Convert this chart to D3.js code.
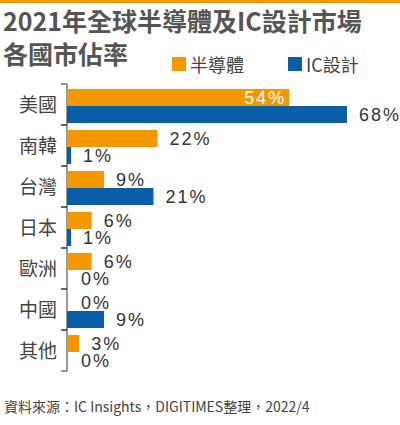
<!DOCTYPE html>
<html><head><meta charset="utf-8">
<script src="https://cdn.jsdelivr.net/npm/d3@7"></script>
<style>body{margin:0;background:#fff}svg{display:block;font-family:"Noto Sans CJK TC",sans-serif}</style>
</head><body><svg width="400" height="425"></svg>
<script>
const categories = ['美國','南韓','台灣','日本','歐洲','中國','其他'];
const semiValues = [54,22,9,6,6,0,3];
const icValues = [68,1,21,1,0,9,0];
const seriesNames = ['半導體','IC設計'];
const colors = ['#f39800','#0a5ea8'];

const svg = d3.select('svg');
svg.append('rect').attr('x',0).attr('y',0).attr('width',400).attr('height',3).attr('fill','#f39800');
const title = svg.append('text').attr('fill','#555').attr('font-weight','bold').attr('font-size',25);
title.append('tspan').attr('x',3).attr('y',31).text('2021年全球半導體及IC設計市場');
title.append('tspan').attr('x',3).attr('y',64).text('各國市佔率');

seriesNames.forEach((n,i)=>{
  const lx = [172,288][i];
  svg.append('rect').attr('x',lx).attr('y',57).attr('width',14).attr('height',14).attr('fill',colors[i]);
  svg.append('text').attr('x',lx+18).attr('y',72).attr('font-size',18).attr('fill','#444').text(n);
});

const x = d3.scaleLinear().domain([0,68]).range([67,347]);
const y = d3.scaleBand().domain(categories).range([84,371]);
const g = svg.append('g');
g.append('line').attr('x1',67).attr('x2',67).attr('y1',y.range()[0]).attr('y2',y.range()[1]).attr('stroke','#333');
categories.forEach((c,i)=>{
  const y0 = y(c);
  [y0, y0+y.bandwidth()].forEach(t=>g.append('line').attr('x1',61).attr('x2',67).attr('y1',t).attr('y2',t).attr('stroke','#333'));
  g.append('text').attr('x',57).attr('y',y0+y.bandwidth()/2+7).attr('text-anchor','end')
    .attr('font-size',19).attr('fill','#444').text(c);
  [semiValues[i], icValues[i]].forEach((v,k)=>{
    const by = y0+5+k*17;
    g.append('rect').attr('x',x(0)).attr('y',by).attr('width',x(v)-x(0)).attr('height',17).attr('fill',colors[k]);
    const inside = i===0 && k===0;
    g.append('text').attr('x', inside ? x(v)-3 : x(v)+(v===0?14:12)).attr('y',by+15)
      .attr('text-anchor', inside ? 'end' : 'start').attr('font-size',18).attr('letter-spacing',2)
      .attr('font-family','Liberation Sans, Arial, sans-serif')
      .attr('fill', inside ? '#fff' : '#333').text(v+'%');
  });
});
svg.append('text').attr('x',4).attr('y',412).attr('font-size',14).attr('fill','#444')
  .text('資料來源：IC Insights，DIGITIMES整理，2022/4');
</script></body></html>
